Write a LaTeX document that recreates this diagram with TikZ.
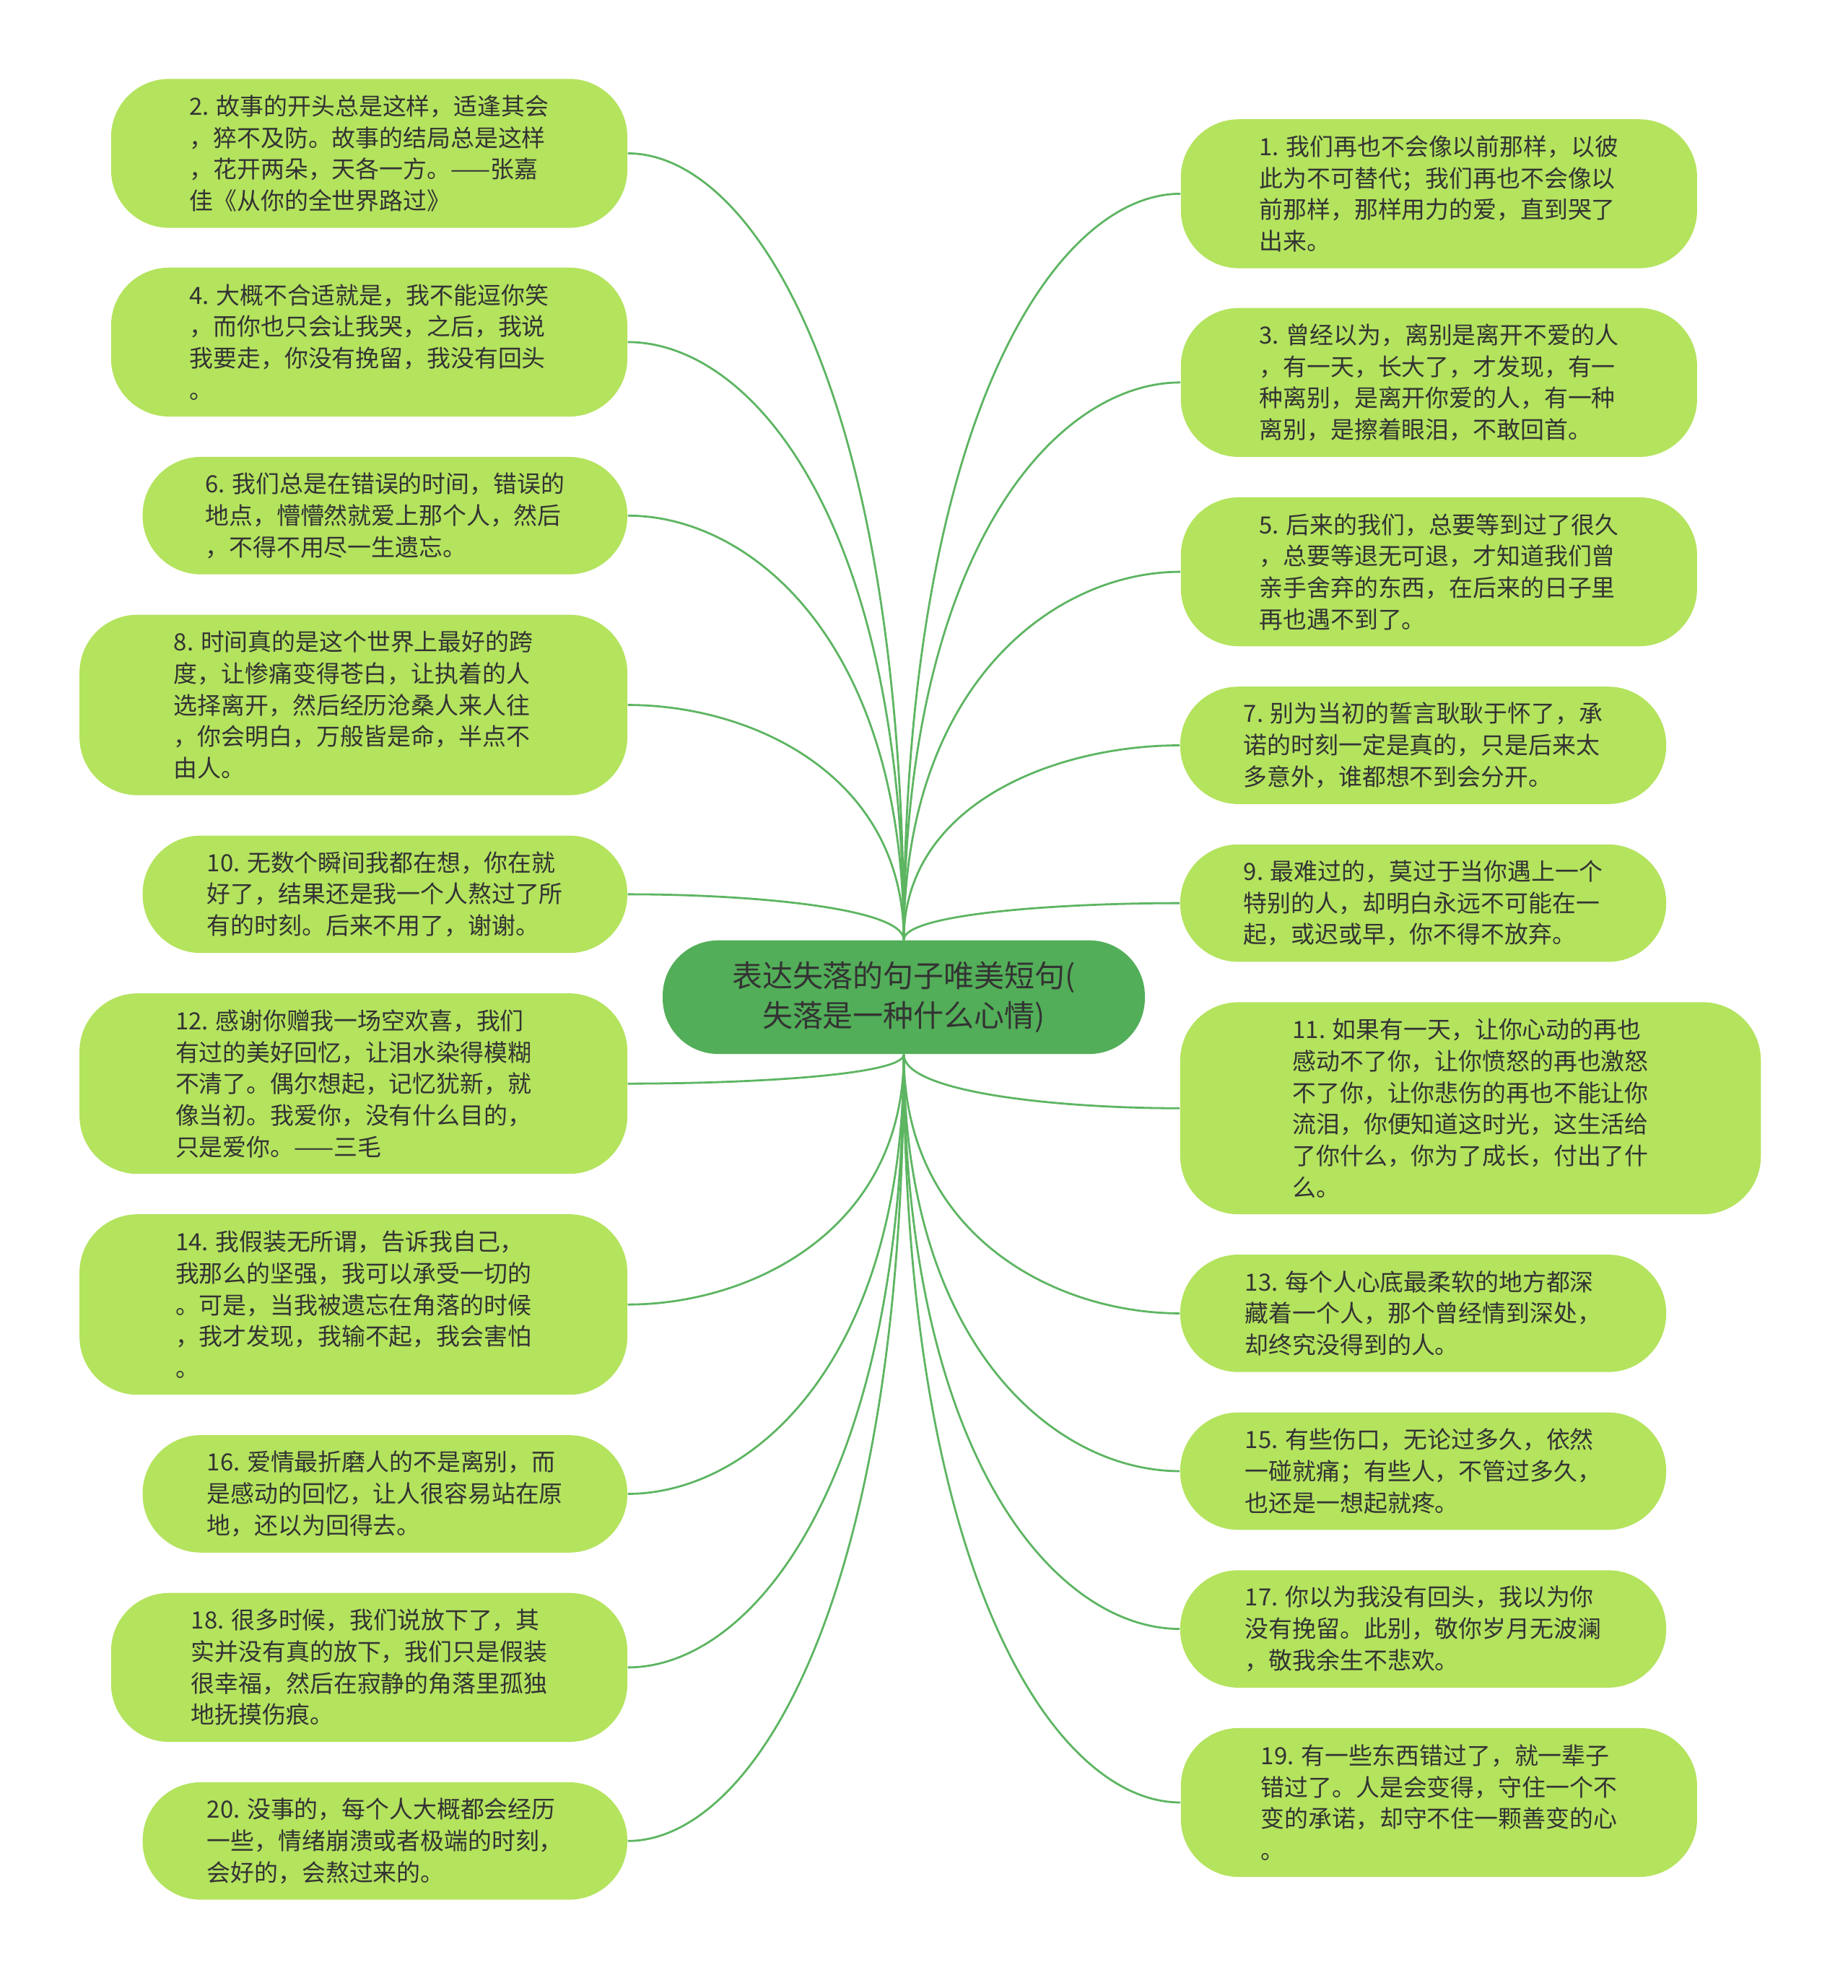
\documentclass[tikz,border=0pt]{standalone}
\usepackage{fontspec}
\setmainfont{Noto Sans CJK SC}
\usetikzlibrary{calc}
\definecolor{leaff}{HTML}{B4E35E}
\definecolor{rootf}{HTML}{52AE58}
\definecolor{linkc}{HTML}{5DB562}
\definecolor{txt}{HTML}{333333}
\tikzset{
 leaf/.style={draw=none,fill=leaff,rounded corners=23pt,inner sep=0pt,align=left,text=txt,font=\fontsize{9.4}{12.5}\selectfont},
 lw/.style={leaf,minimum width=204.5pt,minimum height=59pt},
 ls/.style={leaf,minimum width=192pt,minimum height=46.5pt},
 lb/.style={leaf,minimum width=217pt,minimum height=71.5pt},
 rootbox/.style={fill=rootf,rounded corners=22pt,inner sep=0pt,align=center,text=txt,font=\fontsize{12}{16}\selectfont,minimum width=191pt,minimum height=45pt},
 link/.style={draw=linkc,line width=0.8pt}
}
\begin{document}
\begin{tikzpicture}[x=0.5pt,y=-0.5pt]
\useasboundingbox[fill=white] (0,0) rectangle (1464,1575);
\node[lw] (n2) at (292.5,121.5) {2. 故事的开头总是这样，适逢其会\\，猝不及防。故事的结局总是这样\\，花开两朵，天各一方。——张嘉\\佳《从你的全世界路过》};
\node[lw] (n4) at (292.5,271) {4. 大概不合适就是，我不能逗你笑\\，而你也只会让我哭，之后，我说\\我要走，你没有挽留，我没有回头\\。};
\node[ls] (n6) at (305,408.5) {6. 我们总是在错误的时间，错误的\\地点，懵懵然就爱上那个人，然后\\，不得不用尽一生遗忘。};
\node[lb] (n8) at (280,558.5) {8. 时间真的是这个世界上最好的跨\\度，让惨痛变得苍白，让执着的人\\选择离开，然后经历沧桑人来人往\\，你会明白，万般皆是命，半点不\\由人。};
\node[ls] (n10) at (305,708.5) {10. 无数个瞬间我都在想，你在就\\好了，结果还是我一个人熬过了所\\有的时刻。后来不用了，谢谢。};
\node[lb] (n12) at (280,858.5) {12. 感谢你赠我一场空欢喜，我们\\有过的美好回忆，让泪水染得模糊\\不清了。偶尔想起，记忆犹新，就\\像当初。我爱你，没有什么目的，\\只是爱你。——三毛};
\node[lb] (n14) at (280,1033.5) {14. 我假装无所谓，告诉我自己，\\我那么的坚强，我可以承受一切的\\。可是，当我被遗忘在角落的时候\\，我才发现，我输不起，我会害怕\\。};
\node[ls] (n16) at (305,1183.5) {16. 爱情最折磨人的不是离别，而\\是感动的回忆，让人很容易站在原\\地，还以为回得去。};
\node[lw] (n18) at (292.5,1321) {18. 很多时候，我们说放下了，其\\实并没有真的放下，我们只是假装\\很幸福，然后在寂静的角落里孤独\\地抚摸伤痕。};
\node[ls] (n20) at (305,1458.5) {20. 没事的，每个人大概都会经历\\一些，情绪崩溃或者极端的时刻，\\会好的，会熬过来的。};
\node[lw] (n1) at (1140,153.5) {1. 我们再也不会像以前那样，以彼\\此为不可替代；我们再也不会像以\\前那样，那样用力的爱，直到哭了\\出来。};
\node[lw] (n3) at (1140,303) {3. 曾经以为，离别是离开不爱的人\\，有一天，长大了，才发现，有一\\种离别，是离开你爱的人，有一种\\离别，是擦着眼泪，不敢回首。};
\node[lw] (n5) at (1140,453) {5. 后来的我们，总要等到过了很久\\，总要等退无可退，才知道我们曾\\亲手舍弃的东西，在后来的日子里\\再也遇不到了。};
\node[ls,minimum width=192.5pt] (n7) at (1127.5,590.5) {7. 别为当初的誓言耿耿于怀了，承\\诺的时刻一定是真的，只是后来太\\多意外，谁都想不到会分开。};
\node[ls,minimum width=192.5pt] (n9) at (1127.5,715.5) {9. 最难过的，莫过于当你遇上一个\\特别的人，却明白永远不可能在一\\起，或迟或早，你不得不放弃。};
\node[leaf,minimum width=230pt,minimum height=84pt] (n11) at (1165,878) {11. 如果有一天，让你心动的再也\\感动不了你，让你愤怒的再也激怒\\不了你，让你悲伤的再也不能让你\\流泪，你便知道这时光，这生活给\\了你什么，你为了成长，付出了什\\么。};
\node[ls,minimum width=192.5pt] (n13) at (1127.5,1040.5) {13. 每个人心底最柔软的地方都深\\藏着一个人，那个曾经情到深处，\\却终究没得到的人。};
\node[ls,minimum width=192.5pt] (n15) at (1127.5,1165.5) {15. 有些伤口，无论过多久，依然\\一碰就痛；有些人，不管过多久，\\也还是一想起就疼。};
\node[ls,minimum width=192.5pt] (n17) at (1127.5,1290.5) {17. 你以为我没有回头，我以为你\\没有挽留。此别，敬你岁月无波澜\\，敬我余生不悲欢。};
\node[lw] (n19) at (1140,1428) {19. 有一些东西错过了，就一辈子\\错过了。人是会变得，守住一个不\\变的承诺，却守不住一颗善变的心\\。};
\node[rootbox] (c) at (716,790) {表达失落的句子唯美短句(\\失落是一种什么心情)};
\foreach \n in {n2,n4,n6,n8,n10}{
 \draw[link] (c.north) .. controls ($(c.north)!0.7!(c.north |- \n.east)$) and ($(c.north |- \n.east)!0.55!(\n.east)$) .. (\n.east);}
\foreach \n in {n12,n14,n16,n18,n20}{
 \draw[link] (c.south) .. controls ($(c.south)!0.7!(c.south |- \n.east)$) and ($(c.south |- \n.east)!0.55!(\n.east)$) .. (\n.east);}
\foreach \n in {n1,n3,n5,n7,n9}{
 \draw[link] (c.north) .. controls ($(c.north)!0.7!(c.north |- \n.west)$) and ($(c.north |- \n.west)!0.55!(\n.west)$) .. (\n.west);}
\foreach \n in {n11,n13,n15,n17,n19}{
 \draw[link] (c.south) .. controls ($(c.south)!0.7!(c.south |- \n.west)$) and ($(c.south |- \n.west)!0.55!(\n.west)$) .. (\n.west);}
\end{tikzpicture}
\end{document}
